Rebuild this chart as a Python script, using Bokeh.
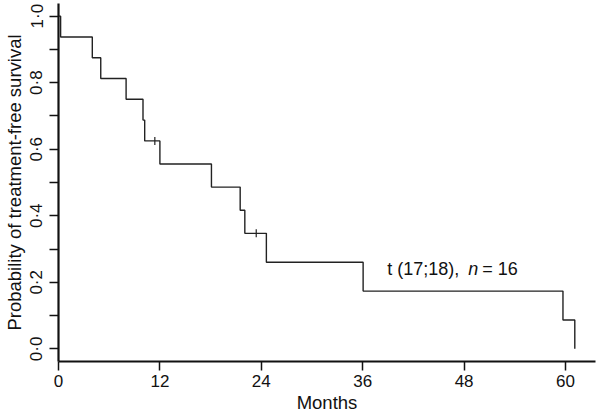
import math
from bokeh.plotting import figure
from bokeh.models import FixedTicker, CustomJSTickFormatter, Range1d, Label
from bokeh.embed import file_html
from bokeh.resources import INLINE

# Kaplan-Meier step points (months, survival probability)
months = [0.0, 0.25, 4.0, 5.0, 8.0, 10.0, 10.2, 12.0, 18.1, 21.5, 22.05, 24.6, 36.05, 59.7, 61.1]
survival = [1.0, 0.9375, 0.875, 0.8125, 0.75, 0.6875, 0.625, 0.5556, 0.4861, 0.4167, 0.3472, 0.2604, 0.1736, 0.0868, 0.0]
# censored observations
censor_months = [11.4, 23.4]
censor_survival = [0.625, 0.3472]

x_ticks = [0, 12, 24, 36, 48, 60]
y_ticks = [0.0, 0.1, 0.2, 0.3, 0.4, 0.5, 0.6, 0.7, 0.8, 0.9, 1.0]

annot_x = 38.9
annot_y = 0.24

FONT = "Liberation Sans"

p = figure(width=598, height=419, output_backend="svg", toolbar_location=None,
           x_range=Range1d(0, 63.55), y_range=Range1d(-0.038, 1.038),
           min_border_left=58, min_border_right=3, min_border_top=3, min_border_bottom=58)
p.outline_line_color = None
p.xgrid.visible = False
p.ygrid.visible = False
p.background_fill_color = "white"
p.border_fill_color = "white"

p.step(months, survival, mode="after", line_color="#222222", line_width=1.4)
p.scatter(censor_months, censor_survival, marker="dash", angle=math.pi / 2, size=8,
          line_color="#222222", line_width=1.2)

for ax in (p.xaxis[0], p.yaxis[0]):
    ax.axis_line_width = 2.2
    ax.axis_line_color = "#111111"
    ax.major_tick_line_width = 1.5
    ax.major_tick_line_color = "#111111"
    ax.major_tick_out = 9
    ax.major_tick_in = 0
    ax.minor_tick_line_color = None
    ax.major_label_text_font = FONT
    ax.major_label_text_font_size = "17px"
    ax.major_label_text_color = "#111111"
    ax.axis_label_text_font = FONT
    ax.axis_label_text_font_size = "18.5px"
    ax.axis_label_text_font_style = "normal"
    ax.axis_label_text_color = "#111111"

p.xaxis.ticker = FixedTicker(ticks=x_ticks)
p.xaxis.axis_label = "Months"
p.xaxis.major_label_standoff = 4
p.xaxis.axis_label_standoff = 2

p.yaxis.ticker = FixedTicker(ticks=y_ticks)
p.yaxis.formatter = CustomJSTickFormatter(code="""
const i = Math.round(tick * 10);
return (i % 2 == 0) ? (i / 10).toFixed(1).replace('.', '\u00b7') : '';
""")
p.yaxis.major_label_orientation = "vertical"
p.yaxis.axis_label = "Probability of treatment-free survival"
p.yaxis.major_label_standoff = 3
p.yaxis.axis_label_standoff = 0

parts = [("t (17;18),", "normal", 0), ("n", "italic", 81), ("= 16", "normal", 95)]
for txt, style, off in parts:
    p.add_layout(Label(x=annot_x, y=annot_y, x_offset=off, text=txt, text_font=FONT,
                       text_font_size="18px", text_font_style=style, text_color="#111111",
                       text_baseline="middle", text_align="left"))

open("out.html", "w").write(file_html(p, INLINE))
